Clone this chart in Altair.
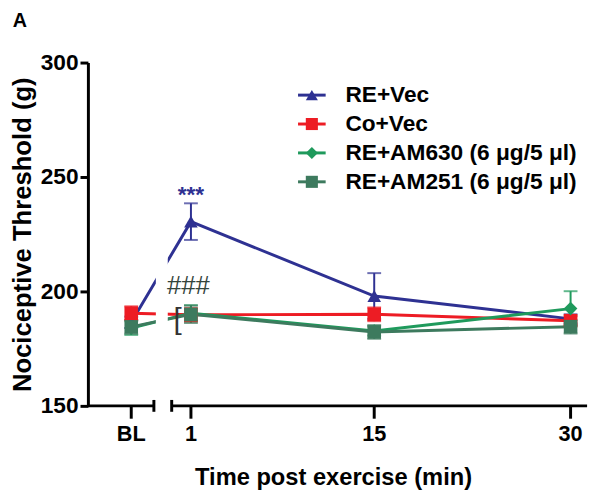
import altair as alt
import pandas as pd

# ---- data ----
times = [1, 15, 30]
bl_pos = -3.56           # where the baseline (BL) sits left of the axis break
tick_labels = ["BL", "1", "15", "30"]
series = ["RE+Vec", "Co+Vec", "RE+AM630 (6 μg/5 μl)", "RE+AM251 (6 μg/5 μl)"]
colors = ["#2e3192", "#ed1c24", "#1f9a5c", "#3d7a5e"]
shapes = ["triangle-up", "square", "diamond", "square"]

re_vec = [186.5, 230.5, 198.0, 188.0]
re_vec_sem = [2.5, 8.0, 10.0, 2.0]
co_vec = [190.5, 189.8, 190.0, 187.2]
co_vec_sem = [3.0, 3.0, 3.0, 2.0]
am630 = [184.0, 190.5, 182.7, 192.5]
am630_sem = [3.0, 3.5, 2.0, 7.6]
am251 = [184.5, 190.0, 182.3, 184.6]
am251_sem = [3.0, 3.8, 3.0, 3.0]

vals = [re_vec, co_vec, am630, am251]
sems = [re_vec_sem, co_vec_sem, am630_sem, am251_sem]
xpos = [bl_pos] + times

rows = []
for s, v, e in zip(series, vals, sems):
    for t, lab, vv, ee in zip(xpos, tick_labels, v, e):
        rows.append({"series": s, "t": t, "label": lab, "v": vv,
                     "lo": vv - ee, "hi": vv + ee})
df = pd.DataFrame(rows)

ticks_df = pd.DataFrame({"t": xpos, "label": tick_labels})
legend_df = pd.DataFrame({"series": series})

FONT = "Liberation Sans"
W, H = 506, 348
XMIN, XMAX = -6.87, 31.26
BRK0, BRK1 = -1.83, -0.47

xscale = alt.Scale(domain=[XMIN, XMAX], nice=False, zero=False)
yscale = alt.Scale(domain=[150, 300], nice=False, zero=False)
cscale = alt.Scale(domain=series, range=colors)
sscale = alt.Scale(domain=series, range=shapes)

yaxis = alt.Axis(values=[150, 200, 250, 300], title="Nociceptive Threshold (g)",
                 grid=False, domainWidth=3, domainColor="black",
                 tickWidth=3, tickColor="black", tickSize=8,
                 labelFont=FONT, labelFontSize=23, labelFontWeight="bold",
                 labelColor="black", labelPadding=2,
                 titleFont=FONT, titleFontSize=26, titleFontWeight="bold",
                 titleColor="black", titlePadding=5)

X = alt.X("t:Q", scale=xscale, axis=None)
Y = alt.Y("v:Q", scale=yscale, axis=yaxis)
C = alt.Color("series:N", scale=cscale, legend=None)
S = alt.Shape("series:N", scale=sscale, legend=None)

base = alt.Chart(df)

lines = base.mark_line(strokeWidth=3).encode(x=X, y=Y, color=C, detail="series:N")

gap_df = pd.DataFrame({"t": [-1.68], "t2": [-0.77], "v": [150], "v2": [300]})
gap = alt.Chart(gap_df).mark_rect(color="white").encode(
    x=X, x2="t2:Q", y=Y, y2="v2:Q")

err = base.mark_rule(strokeWidth=2).encode(
    x=X, y=alt.Y("lo:Q", scale=yscale, axis=yaxis), y2="hi:Q", color=C)
cap_hi = base.mark_tick(orient="horizontal", size=14, thickness=2).encode(
    x=X, y=alt.Y("hi:Q", scale=yscale, axis=yaxis), color=C)
cap_lo = base.mark_tick(orient="horizontal", size=14, thickness=2).encode(
    x=X, y=alt.Y("lo:Q", scale=yscale, axis=yaxis), color=C)

pts = base.mark_point(filled=True, opacity=1, size=190).encode(
    x=X, y=Y, color=C, shape=S)

axis_black = "black"
seg_df = pd.DataFrame({"t": [XMIN, BRK1], "t2": [BRK0, XMAX], "v": [150, 150]})
segs = alt.Chart(seg_df).mark_rule(strokeWidth=3, color=axis_black).encode(
    x=X, x2="t2:Q", y=Y)
brk_df = pd.DataFrame({"t": [BRK0, BRK1]})
caps = alt.Chart(brk_df).mark_rule(strokeWidth=3, color=axis_black).encode(
    x=X, y=alt.value(H - 6), y2=alt.value(H + 6))

xticks = alt.Chart(ticks_df).mark_rule(strokeWidth=3, color=axis_black).encode(
    x=X, y=alt.value(H), y2=alt.value(H + 13))
xlabels = alt.Chart(ticks_df).mark_text(
    font=FONT, fontSize=22, fontWeight="bold", baseline="top", color="black").encode(
    x=X, y=alt.value(H + 19), text="label:N")

txt_df = pd.DataFrame({"s": ["Time post exercise (min)"]})
xtitle = alt.Chart(txt_df).mark_text(
    font=FONT, fontSize=24, fontWeight="bold", baseline="alphabetic", color="black"
).encode(x=alt.value(249), y=alt.value(H + 80), text="s:N")
panel_df = pd.DataFrame({"s": ["A"]})
panel = alt.Chart(panel_df).mark_text(
    font=FONT, fontSize=20, fontWeight="bold", baseline="alphabetic", color="black"
).encode(x=alt.value(-69), y=alt.value(-36), text="s:N")

stars_df = pd.DataFrame({"t": [1.0], "v": [239.0], "s": ["***"]})
stars = alt.Chart(stars_df).mark_text(
    font=FONT, fontSize=23, fontWeight="bold", baseline="alphabetic", color=colors[0]
).encode(x=X, y=Y, text="s:N")
hash_df = pd.DataFrame({"t": [0.81], "v": [198.7], "s": ["###"]})
hashes = alt.Chart(hash_df).mark_text(
    font=FONT, fontSize=26, baseline="alphabetic", color="#34443c"
).encode(x=X, y=Y, text="s:N")
br_df = pd.DataFrame({"t": [-0.02], "v": [187.5], "s": ["["]})
bracket = alt.Chart(br_df).mark_text(
    font=FONT, fontSize=30, baseline="middle", color="#333333"
).encode(x=X, y=Y, text="s:N")

# manual legend (one row per series)
LX0, LX1, LT = 213, 241, 261
legend_layers = []
for i, s in enumerate(series):
    ly = 33 + i * 29.3
    lb = alt.Chart(legend_df).transform_filter(alt.datum.series == s)
    legend_layers.append(lb.mark_rule(strokeWidth=3).encode(
        x=alt.value(LX0), x2=alt.value(LX1), y=alt.value(ly), color=C))
    legend_layers.append(lb.mark_point(filled=True, opacity=1, size=150).encode(
        x=alt.value((LX0 + LX1) / 2), y=alt.value(ly), color=C, shape=S))
    legend_layers.append(lb.mark_text(
        font=FONT, fontSize=23, fontWeight="bold", align="left", baseline="middle",
        color="black").encode(x=alt.value(LT), y=alt.value(ly), text="series:N"))

chart = alt.layer(
    lines, gap, err, cap_hi, cap_lo, pts,
    segs, caps, xticks, xlabels, xtitle, panel,
    stars, hashes, bracket, *legend_layers
).properties(
    width=W, height=H,
    background="white",
    autosize=alt.AutoSizeParams(type="none"),
    padding={"left": 81, "top": 52, "right": 6, "bottom": 84},
).configure_view(stroke=None)

chart.save("out.html", embed_options={"renderer": "svg", "actions": False})
